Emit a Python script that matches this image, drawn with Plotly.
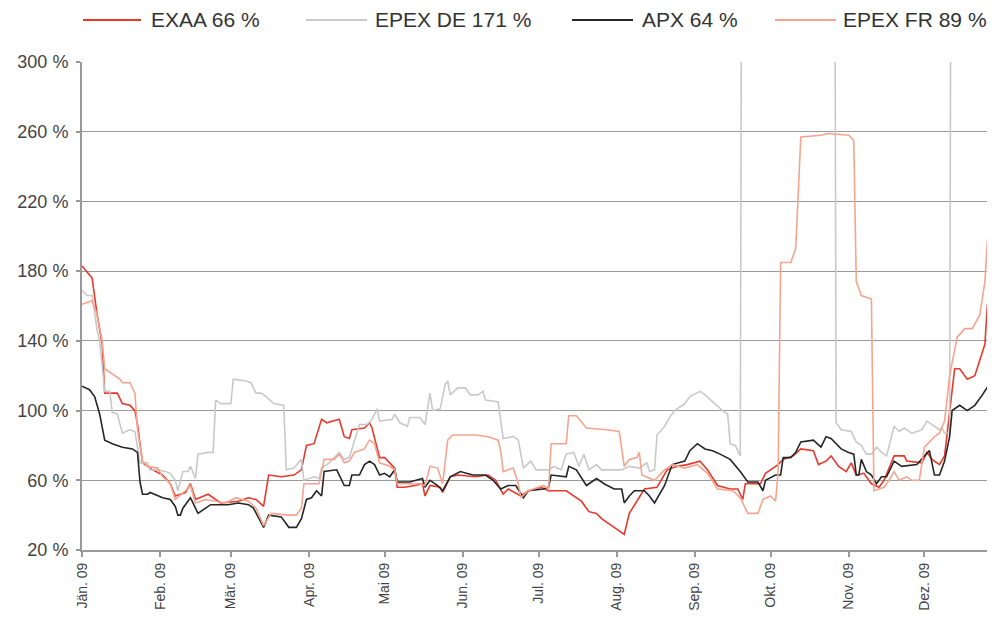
import pandas as pd
import plotly.graph_objects as go

# day offsets from 1 Jan 2009 and volatility values (%)
exaa_days = [0, 4, 6, 8, 9, 14, 16, 19, 21, 22, 24, 28, 32, 35, 37, 41, 43, 45, 50, 55, 62, 66, 69, 72, 74,
             79, 84, 87, 89, 92, 95, 97, 102, 104, 106, 107, 112, 114, 115, 118, 120, 124, 125, 128, 132, 135,
             136, 138, 142, 143, 146, 149, 156, 161, 164, 167, 169, 174, 177, 182, 185, 192, 198, 201, 204,
             206, 211, 215, 217, 220, 223, 228, 232, 236, 240, 245, 248, 252, 257, 260, 262, 263, 269, 271,
             276, 278, 282, 285, 290, 292, 295, 297, 300, 303, 305, 307, 310, 313, 316, 318, 322, 326, 327,
             333, 335, 337, 340, 342, 344, 346, 348, 351, 354, 356, 358, 359, 362]
exaa_vals = [183, 176, 155, 138, 110, 110, 104, 103, 100, 92, 70, 66, 63, 58, 51, 53, 58, 49, 52, 47, 48, 50,
             49, 45, 63, 62, 63, 66, 80, 81, 95, 93, 95, 85, 84, 89, 90, 93, 90, 73, 73, 67, 56, 56, 57, 58, 51,
             57, 56, 53, 62, 63, 62, 63, 60, 52, 55, 51, 54, 56, 54, 54, 48, 42, 41, 38, 33, 29, 41, 48, 55, 56,
             66, 68, 69, 71, 66, 57, 55, 55, 49, 58, 58, 64, 69, 72, 74, 78, 77, 69, 71, 74, 68, 65, 70, 63, 64,
             58, 56, 60, 74, 74, 71, 70, 76, 72, 69, 74, 98, 124, 124, 118, 120, 129, 138, 161, 161]

epex_de_days = [0, 2, 4, 6, 7, 8, 9, 11, 12, 14, 16, 19, 21, 23, 26, 27, 30, 33, 35, 37, 38, 40, 42, 43, 45,
                46, 50, 52, 53, 55, 59, 60, 65, 67, 69, 71, 73, 76, 80, 81, 84, 87, 88, 92, 94, 95, 98, 102,
                104, 106, 110, 113, 115, 117, 118, 123, 124, 126, 129, 130, 134, 136, 138, 139, 142, 144, 145,
                146, 149, 152, 154, 157, 159, 160, 165, 167, 171, 173, 175, 178, 180, 185, 187, 190, 192, 195,
                197, 199, 201, 204, 206, 211, 214, 217, 221, 224, 225, 227, 228, 231, 233, 235, 239, 241, 245,
                247, 250, 254, 256, 257, 259, 261, 262, 298, 299, 301, 305, 307, 309, 311, 313, 315, 317, 319,
                322, 324, 326, 329, 331, 333, 335, 338, 340, 341, 342, 344, 345, 362]
epex_de_vals = [169, 166, 166, 146, 140, 127, 111, 111, 99, 98, 87, 89, 88, 70, 70, 66, 66, 65, 64, 60, 54, 65,
                65, 68, 61, 75, 76, 76, 106, 104, 104, 118, 117, 116, 110, 110, 108, 104, 103, 66, 67, 72, 60,
                62, 61, 67, 70, 76, 72, 73, 92, 92, 95, 101, 94, 95, 98, 93, 91, 96, 96, 92, 110, 100, 101, 115,
                117, 109, 113, 113, 109, 109, 111, 106, 105, 84, 85, 83, 67, 71, 66, 66, 68, 66, 75, 76, 68, 75,
                66, 69, 66, 66, 66, 68, 67, 70, 65, 66, 86, 91, 96, 100, 104, 108, 111, 109, 105, 100, 98, 81,
                80, 74, 650, 650, 93, 89, 88, 82, 80, 75, 75, 79, 76, 74, 91, 88, 90, 87, 88, 89, 94, 91, 89, 90,
                87, 87, 650, 650]

apx_days = [0, 3, 5, 7, 9, 12, 16, 20, 22, 23, 24, 26, 27, 32, 35, 37, 38, 39, 40, 43, 44, 46, 48, 51, 58, 62,
            66, 68, 72, 74, 79, 82, 85, 87, 89, 91, 93, 95, 96, 101, 104, 106, 107, 110, 112, 114, 116, 118,
            120, 122, 124, 125, 130, 133, 135, 136, 138, 141, 143, 146, 150, 155, 160, 163, 166, 169, 172, 175,
            177, 183, 185, 186, 192, 193, 196, 200, 204, 207, 211, 214, 215, 217, 219, 223, 225, 227, 231, 234,
            239, 241, 244, 247, 250, 253, 257, 261, 264, 268, 270, 271, 275, 277, 278, 281, 283, 285, 290, 293,
            295, 297, 301, 304, 306, 307, 308, 309, 311, 313, 315, 317, 319, 322, 325, 331, 334, 336, 338, 340,
            342, 344, 345, 348, 351, 354, 357, 361, 362]
apx_vals = [114, 112, 108, 98, 83, 81, 79, 78, 76, 59, 52, 52, 53, 50, 49, 45, 40, 40, 44, 50, 47, 41, 43, 46,
            46, 47, 46, 44, 33, 40, 39, 33, 33, 38, 49, 50, 54, 51, 65, 66, 57, 57, 63, 63, 69, 71, 69, 63, 64,
            62, 66, 59, 59, 60, 61, 56, 60, 57, 54, 62, 65, 63, 63, 60, 55, 57, 57, 50, 54, 55, 56, 63, 62, 68,
            66, 57, 61, 58, 55, 55, 47, 51, 54, 54, 51, 47, 57, 69, 71, 77, 81, 78, 77, 75, 72, 65, 59, 59, 54,
            60, 63, 63, 73, 73, 76, 82, 83, 79, 85, 84, 78, 76, 75, 63, 63, 72, 65, 63, 58, 62, 62, 71, 68, 69,
            74, 77, 63, 63, 71, 85, 100, 103, 100, 103, 109, 118, 117]

epex_fr_days = [0, 4, 6, 8, 9, 12, 15, 16, 19, 21, 22, 24, 26, 30, 32, 35, 37, 41, 43, 45, 49, 57, 61, 66, 69,
                72, 75, 82, 85, 87, 88, 94, 96, 100, 102, 104, 106, 108, 112, 114, 116, 118, 122, 124, 125, 130,
                134, 136, 138, 141, 143, 145, 147, 156, 161, 165, 166, 167, 171, 173, 174, 177, 183, 185, 186,
                192, 193, 196, 200, 208, 213, 215, 217, 220, 221, 222, 227, 231, 234, 239, 244, 248, 252, 258,
                261, 264, 268, 270, 273, 275, 276, 277, 281, 283, 285, 293, 296, 304, 306, 307, 309, 313, 314,
                318, 320, 322, 324, 327, 329, 332, 334, 338, 340, 342, 344, 347, 350, 353, 356, 358, 359, 362]
epex_fr_vals = [161, 163, 155, 140, 124, 121, 118, 116, 116, 110, 89, 71, 68, 67, 62, 58, 49, 54, 57, 47, 49,
                47, 50, 48, 44, 34, 41, 40, 40, 44, 58, 58, 72, 72, 75, 70, 71, 76, 78, 83, 81, 70, 68, 66, 58,
                58, 58, 57, 68, 67, 58, 83, 86, 86, 85, 83, 77, 65, 67, 58, 50, 54, 57, 55, 81, 81, 97, 97, 90,
                89, 88, 68, 72, 73, 76, 63, 60, 66, 69, 67, 69, 64, 55, 54, 50, 41, 41, 49, 51, 48, 65, 185, 185,
                193, 257, 258, 259, 258, 255, 174, 166, 164, 54, 56, 60, 65, 60, 62, 60, 60, 79, 85, 87, 94, 120,
                142, 147, 147, 155, 174, 198, 201]

series_names = ["EXAA 66 %", "EPEX DE 171 %", "APX 64 %", "EPEX FR 89 %"]
series_colors = ["#e8392d", "#c9c9c9", "#262626", "#f6a48e"]
month_labels = ["Jän. 09", "Feb. 09", "Mär. 09", "Apr. 09", "Mai 09", "Jun. 09",
                "Jul. 09", "Aug. 09", "Sep. 09", "Okt. 09", "Nov. 09", "Dez. 09"]
y_ticks = [20, 60, 100, 140, 180, 220, 260, 300]

start = pd.Timestamp("2009-01-01")


def to_dates(days):
    return start + pd.to_timedelta(days, unit="D")


series = [(exaa_days, exaa_vals), (epex_de_days, epex_de_vals),
          (apx_days, apx_vals), (epex_fr_days, epex_fr_vals)]

fig = go.Figure()
for (days, vals), name, color in zip(series, series_names, series_colors):
    fig.add_trace(go.Scatter(
        x=to_dates(days), y=vals, mode="lines", name=name,
        line=dict(color=color, width=1.6), showlegend=False,
    ))

# legend drawn by hand: short line sample + label above the plot
# (positions in window pixels; plot area spans x 82..995, y 62..550 on screen)
legend_x = [(83, 141, 149), (306, 367, 373), (572, 633, 640), (775, 836, 841)]
plot_left, plot_w, plot_h = 82, 913, 488
for (x0, x1, xt), name, color in zip(legend_x, series_names, series_colors):
    yy = 1 + 42 / plot_h
    fig.add_shape(type="line", xref="paper", yref="paper",
                  x0=(x0 - plot_left) / plot_w, x1=(x1 - plot_left) / plot_w, y0=yy, y1=yy,
                  line=dict(color=color, width=2))
    fig.add_annotation(xref="paper", yref="paper", x=(xt - plot_left) / plot_w, y=yy,
                       text=name, showarrow=False, xanchor="left", yanchor="middle",
                       font=dict(size=21, color="#333"))

# page body keeps an 8px margin; keep the page no taller than the window
fig.update_layout(
    width=987, height=603,
    margin=dict(l=74, r=0, t=54, b=61),
    paper_bgcolor="white", plot_bgcolor="white",
    font=dict(family="Liberation Sans, Arial, sans-serif", color="#444"),
    xaxis=dict(
        type="date", automargin=False,
        range=[start, start + pd.Timedelta(days=362)],
        tickvals=pd.date_range("2009-01-01", periods=12, freq="MS"),
        ticktext=month_labels,
        tickangle=-90, tickfont=dict(size=14),
        ticks="outside", ticklen=5, tickcolor="#999", tickwidth=1.5,
        showline=True, linecolor="#999", linewidth=2,
        showgrid=False, zeroline=False,
    ),
    yaxis=dict(
        range=[20, 300], automargin=False,
        tickvals=y_ticks,
        ticktext=[f"{v} %" for v in y_ticks],
        tickfont=dict(size=18), ticklabelstandoff=4,
        ticks="outside", ticklen=4, tickcolor="#999", tickwidth=1.5,
        showline=True, linecolor="#999", linewidth=2,
        showgrid=True, gridcolor="#9a9a9a", gridwidth=1.3,
        zeroline=False,
    ),
)

fig.write_html("out.html")
